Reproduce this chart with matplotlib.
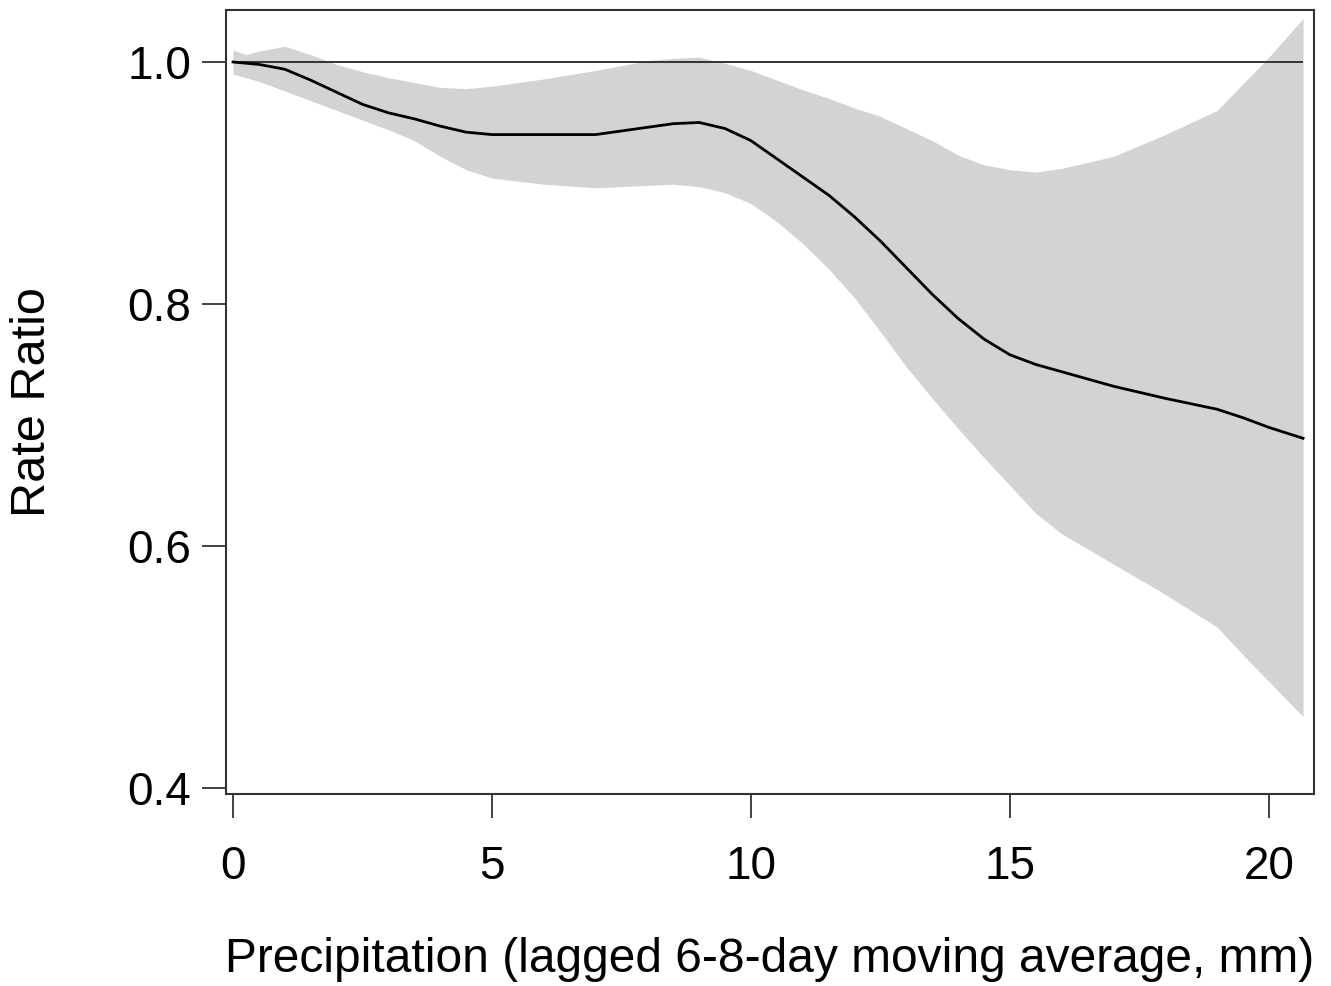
import matplotlib
matplotlib.use("Agg")
from matplotlib import pyplot as plt

# Data
precip = [0, 0.25, 0.5, 1, 1.5, 2, 2.5, 3, 3.5, 4, 4.5, 5, 6, 7, 8, 8.5, 9, 9.5,
          10, 10.5, 11, 11.5, 12, 12.5, 13, 13.5, 14, 14.5, 15, 15.5, 16, 17,
          18, 19, 19.5, 20, 20.66]
rr = [1.000, 0.999, 0.998, 0.994, 0.985, 0.975, 0.965, 0.958, 0.953, 0.947,
      0.942, 0.940, 0.940, 0.940, 0.946, 0.949, 0.950, 0.945, 0.935, 0.920,
      0.905, 0.890, 0.872, 0.852, 0.830, 0.808, 0.788, 0.771, 0.758, 0.750,
      0.744, 0.732, 0.722, 0.713, 0.706, 0.698, 0.689]
rr_upper = [1.010, 1.006, 1.009, 1.013, 1.006, 0.998, 0.992, 0.987, 0.983,
            0.979, 0.978, 0.980, 0.986, 0.993, 1.001, 1.003, 1.004, 0.999,
            0.993, 0.985, 0.977, 0.970, 0.962, 0.955, 0.945, 0.935, 0.923,
            0.915, 0.911, 0.909, 0.912, 0.922, 0.940, 0.960, 0.982, 1.004,
            1.036]
rr_lower = [0.990, 0.987, 0.984, 0.976, 0.968, 0.960, 0.952, 0.944, 0.935,
            0.922, 0.911, 0.904, 0.899, 0.896, 0.898, 0.899, 0.897, 0.892,
            0.883, 0.868, 0.850, 0.829, 0.805, 0.777, 0.748, 0.722, 0.697,
            0.673, 0.650, 0.627, 0.610, 0.585, 0.560, 0.533, 0.510, 0.488,
            0.459]
xticks = [0, 5, 10, 15, 20]
yticks = [0.4, 0.6, 0.8, 1.0]

plt.rcParams['font.family'] = ['Liberation Sans', 'DejaVu Sans']

fig = plt.figure(figsize=(13.31, 9.86), dpi=100)
ax = fig.add_axes([0.1698, 0.1947, 0.8174, 0.7952])

# Confidence band, reference line, estimate
ax.fill_between(precip, rr_lower, rr_upper, color='#d3d3d3', linewidth=0)
ax.hlines(1.0, precip[0], precip[-1], color='#333333', linewidth=1.4)
ax.plot(precip, rr, color='black', linewidth=2)

ax.set_xlim(-0.135, 20.87)
ax.set_ylim(0.395, 1.043)
ax.set_xticks(xticks)
ax.set_xticklabels([str(t) for t in xticks])
ax.set_yticks(yticks)
ax.set_yticklabels(["%.1f" % t for t in yticks])

for s in ax.spines.values():
    s.set_color('#333333')
    s.set_linewidth(1.5)
ax.tick_params(axis='both', direction='out', length=17, width=1.3,
               color='#333333', labelsize=33)
ax.tick_params(axis='x', pad=20)
ax.tick_params(axis='y', pad=8)

ax.set_xlabel("Precipitation (lagged 6-8-day moving average, mm)",
              fontsize=34.5, labelpad=34)
ax.set_ylabel("Rate Ratio", fontsize=35, labelpad=52)

fig.savefig("out.png", dpi=100)
